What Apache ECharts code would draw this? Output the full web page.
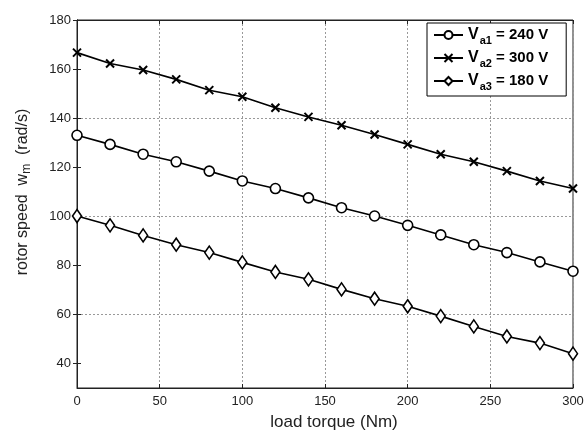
<!DOCTYPE html>
<html><head><meta charset="utf-8">
<script src="https://cdn.jsdelivr.net/npm/echarts@6/dist/echarts.min.js"></script>
<style>html,body{margin:0;padding:0;background:#fff}#c{width:587px;height:436px}</style>
</head><body><div id="c"></div>
<script>
const torque = [0,20,40,60,80,100,120,140,160,180,200,220,240,260,280,300];
const va1 = [133,129.3,125.3,122.2,118.4,114.4,111.3,107.5,103.5,100.1,96.3,92.4,88.4,85.2,81.4,77.6];
const va2 = [166.7,162.3,159.6,155.8,151.4,148.7,144.2,140.5,137.1,133.3,129.3,125.3,122.2,118.4,114.4,111.3];
const va3 = [100.1,96.3,92.2,88.4,85.2,81.2,77.3,74.3,70.2,66.4,63.3,59.3,55.1,51.0,48.3,44.0];
const yTicks = [40,60,80,100,120,140,160,180];
const xTicks = [0,50,100,150,200,250,300];
const names = ['Va1','Va2','Va3'];
const legendText = {Va1:['a1','240'], Va2:['a2','300'], Va3:['a3','180']};

const font = 'Liberation Sans, Arial, sans-serif';
const pair = a => torque.map((t,i)=>[t,a[i]]);
const xMark = 'path://M0,0L10,10M10,0L0,10';
const common = {type:'line', color:'#000', lineStyle:{color:'#000', width:1.6},
  itemStyle:{color:'#fff', borderColor:'#000', borderWidth:1.6}, animation:false};

const chart = echarts.init(document.getElementById('c'));
const gridLine = {show:true, lineStyle:{color:'#999', type:[2,2], width:1}};
chart.setOption({
  backgroundColor:'#fff',
  grid:{left:77, right:14, top:20, bottom:48, show:true, borderColor:'#222', borderWidth:1},
  legend:{
    data:names, left:427, top:23, width:140, orient:'vertical',
    backgroundColor:'#fff', borderColor:'#000', borderWidth:1, padding:[4,18,4,6],
    itemWidth:29, itemHeight:10, itemGap:4,
    formatter: n => '{v|V}{s|' + legendText[n][0] + '}{t| = ' + legendText[n][1] + ' V}',
    textStyle:{fontFamily:font, color:'#000', rich:{
      v:{fontSize:16, fontFamily:font, color:'#000', fontWeight:'bold'},
      s:{fontSize:11, fontFamily:font, color:'#000', fontWeight:'bold', padding:[11,0,0,1]},
      t:{fontSize:15, fontFamily:font, color:'#000', fontWeight:'bold'}
    }}
  },
  xAxis:[{
    type:'value', min:0, max:300, interval:50,
    name:'load torque (Nm)', nameLocation:'middle', nameGap:26,
    nameTextStyle:{fontFamily:font, fontSize:17, color:'#222', padding:[0,0,0,18]},
    axisLine:{show:true, lineStyle:{color:'#222'}},
    axisTick:{show:true, inside:true, length:4, lineStyle:{color:'#222'}},
    axisLabel:{fontFamily:font, fontSize:13, color:'#222', margin:7},
    splitLine:gridLine
  },{
    type:'value', min:0, max:300, interval:50, position:'top',
    axisLine:{show:true, lineStyle:{color:'#222'}},
    axisTick:{show:true, inside:true, length:4, lineStyle:{color:'#222'}},
    axisLabel:{show:false}, splitLine:{show:false}
  }],
  yAxis:[{
    type:'value', min:30, max:180, interval:10,
    name:'{a|rotor speed  w}{b|m}{a|  (rad/s)}', nameLocation:'middle', nameGap:44,
    nameTextStyle:{fontFamily:font, color:'#222', padding:[0,0,0,24], rich:{
      a:{fontSize:16, fontFamily:font, color:'#222'},
      b:{fontSize:12, fontFamily:font, color:'#222', padding:[9,0,0,0]}
    }},
    axisLine:{show:true, lineStyle:{color:'#222'}},
    axisTick:{show:true, inside:true, length:4, customValues:yTicks, lineStyle:{color:'#222'}},
    axisLabel:{fontFamily:font, fontSize:13, color:'#222', margin:6, customValues:yTicks},
    splitLine:{show:true, lineStyle:{color:['rgba(0,0,0,0)','#999'], type:[2,2], width:1}}
  },{
    type:'value', min:30, max:180, interval:10, position:'right',
    axisLine:{show:true, lineStyle:{color:'#222'}},
    axisTick:{show:true, inside:true, length:4, customValues:yTicks, lineStyle:{color:'#222'}},
    axisLabel:{show:false}, splitLine:{show:false}
  }],
  series:[
    Object.assign({}, common, {name:'Va1', data:pair(va1), symbol:'circle', symbolSize:10}),
    Object.assign({}, common, {name:'Va2', data:pair(va2), symbol:xMark, symbolSize:8,
      itemStyle:{color:'#000', borderColor:'#000', borderWidth:2}}),
    Object.assign({}, common, {name:'Va3', data:pair(va3), symbol:'diamond', symbolSize:[9,13]})
  ]
});
</script></body></html>
